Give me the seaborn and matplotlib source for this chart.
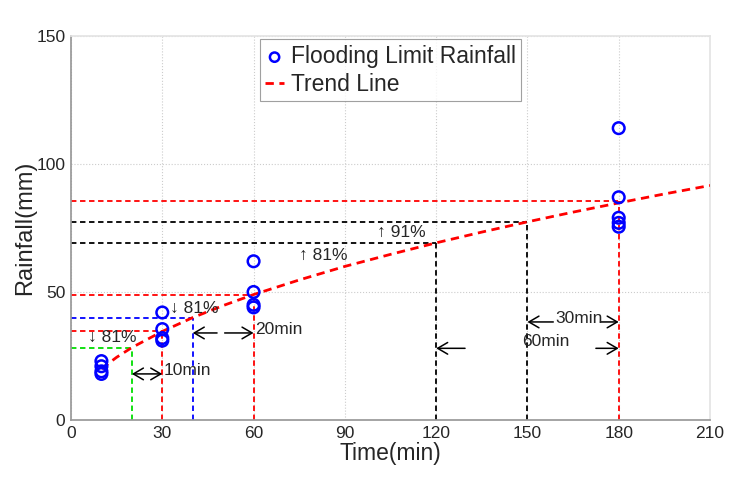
import matplotlib
matplotlib.use("Agg")
import matplotlib.pyplot as plt
import seaborn as sns
import pandas as pd

sns.set_theme(style="white")
plt.rcParams['font.family'] = ['Liberation Sans', 'DejaVu Sans']

# Observed flooding limit rainfall
obs_time = [10, 10, 10, 10, 30, 30, 30, 30, 60, 60, 60, 60, 180, 180, 180, 180, 180]
obs_rain = [23, 21, 19, 18, 42, 35.5, 32, 31, 62, 50, 45, 44, 114, 87, 79, 77, 75.5]

# Trend line
trend_time = [10, 15, 20, 30, 40, 50, 60, 75, 90, 105, 120, 135, 150, 165, 180, 195, 210]
trend_rain = [20, 24.5, 28.3, 34.6, 40, 44.7, 49, 54.7, 60, 64.7, 69.2, 73.4, 77.4, 81.2, 84.8, 88.3, 91.6]

# Reference (time, rainfall, colour) lines
ref_time = [20, 30, 40, 60, 120, 150, 180]
ref_rain = [28.3, 34.6, 40, 49, 69.2, 77.4, 85.5]
ref_color = ['#00dd00', 'red', 'blue', 'red', 'black', 'black', 'red']

x_ticks = [0, 30, 60, 90, 120, 150, 180, 210]
y_ticks = [0, 50, 100, 150]

obs_df = pd.DataFrame({'Time': obs_time, 'Rain': obs_rain})
trend_df = pd.DataFrame({'Time': trend_time, 'Rain': trend_rain})

fig = plt.figure(figsize=(7.52, 4.82), dpi=100)
ax = fig.add_axes([71/752, 62/482, 639/752, 384/482])

# reference lines
for t, r, c in zip(ref_time, ref_rain, ref_color):
    ax.plot([0, t], [r, r], ls=(0, (3, 2)), color=c, lw=1.3, zorder=2)
    ax.plot([t, t], [0, r], ls=(0, (3, 2)), color=c, lw=1.3, zorder=2)

sns.lineplot(data=trend_df, x='Time', y='Rain', ax=ax, color='red', lw=2,
             linestyle=(0, (3, 2)), label='Trend Line', zorder=3)
sns.scatterplot(data=obs_df, x='Time', y='Rain', ax=ax, marker='o', s=70,
                facecolor='none', edgecolor='blue', linewidth=1.8,
                label='Flooding Limit Rainfall', zorder=4)

ax.set_xlim(0, 210)
ax.set_ylim(0, 150)
ax.set_xticks(x_ticks)
ax.set_yticks(y_ticks)
ax.tick_params(labelsize=12.5, length=0, pad=4)
ax.grid(True, color='#cccccc', ls=':', lw=0.8)
for s in ['bottom', 'left']:
    ax.spines[s].set_color('#999999')
for s in ['top', 'right']:
    ax.spines[s].set_color('#e4e4e4')
ax.set_xlabel('Time(min)', fontsize=16.5, labelpad=1)
ax.set_ylabel('Rainfall(mm)', fontsize=17)
ax.yaxis.set_label_coords(-0.054, 0.5)

# legend
h, l = ax.get_legend_handles_labels()
order = [l.index('Flooding Limit Rainfall'), l.index('Trend Line')]
leg = ax.legend([h[i] for i in order], [l[i] for i in order], loc='upper center',
                bbox_to_anchor=(0.5, 1.0), fontsize=16.5, frameon=True, fancybox=False,
                handlelength=0.8, handletextpad=0.3, borderpad=0.25, labelspacing=0.2,
                borderaxespad=0.15, markerscale=0.8)
leg.get_frame().set_edgecolor('#888888')
leg.get_frame().set_linewidth(0.8)

fs = 12.5
# percentage annotations
ax.text(5.5, 29.5, '↓ 81%', fontsize=fs, va='bottom', ha='left')
ax.text(32.5, 40.5, '↓ 81%', fontsize=fs, va='bottom', ha='left')
ax.text(75, 61.5, '↑ 81%', fontsize=fs, va='bottom', ha='left')
ax.text(100.5, 70.5, '↑ 91%', fontsize=fs, va='bottom', ha='left')

hs = '->,head_length=0.6,head_width=0.35'
ap = dict(arrowstyle=hs, color='black', lw=1.1, shrinkA=0, shrinkB=0)
# 10 min
ax.annotate('', xy=(20, 18), xytext=(30, 18),
            arrowprops=dict(arrowstyle='<->,head_length=0.6,head_width=0.35',
                            color='black', lw=1.1, shrinkA=0, shrinkB=0))
ax.text(30.5, 19.5, '10min', fontsize=fs, va='center', ha='left')
# 20 min
ax.annotate('', xy=(40, 34), xytext=(48, 34), arrowprops=ap)
ax.annotate('', xy=(60, 34), xytext=(50.5, 34), arrowprops=ap)
ax.text(60.5, 35.5, '20min', fontsize=fs, va='center', ha='left')
# 30 min
ax.annotate('', xy=(150, 38.3), xytext=(158.5, 38.3), arrowprops=ap)
ax.annotate('', xy=(180, 38.3), xytext=(174, 38.3), arrowprops=ap)
ax.text(167, 39.5, '30min', fontsize=fs, va='center', ha='center')
# 60 min
ax.annotate('', xy=(120, 28), xytext=(129.5, 28), arrowprops=ap)
ax.annotate('', xy=(180, 28), xytext=(172.5, 28), arrowprops=ap)
ax.text(156, 30.5, '60min', fontsize=fs, va='center', ha='center')

fig.savefig('out.png', dpi=100)
